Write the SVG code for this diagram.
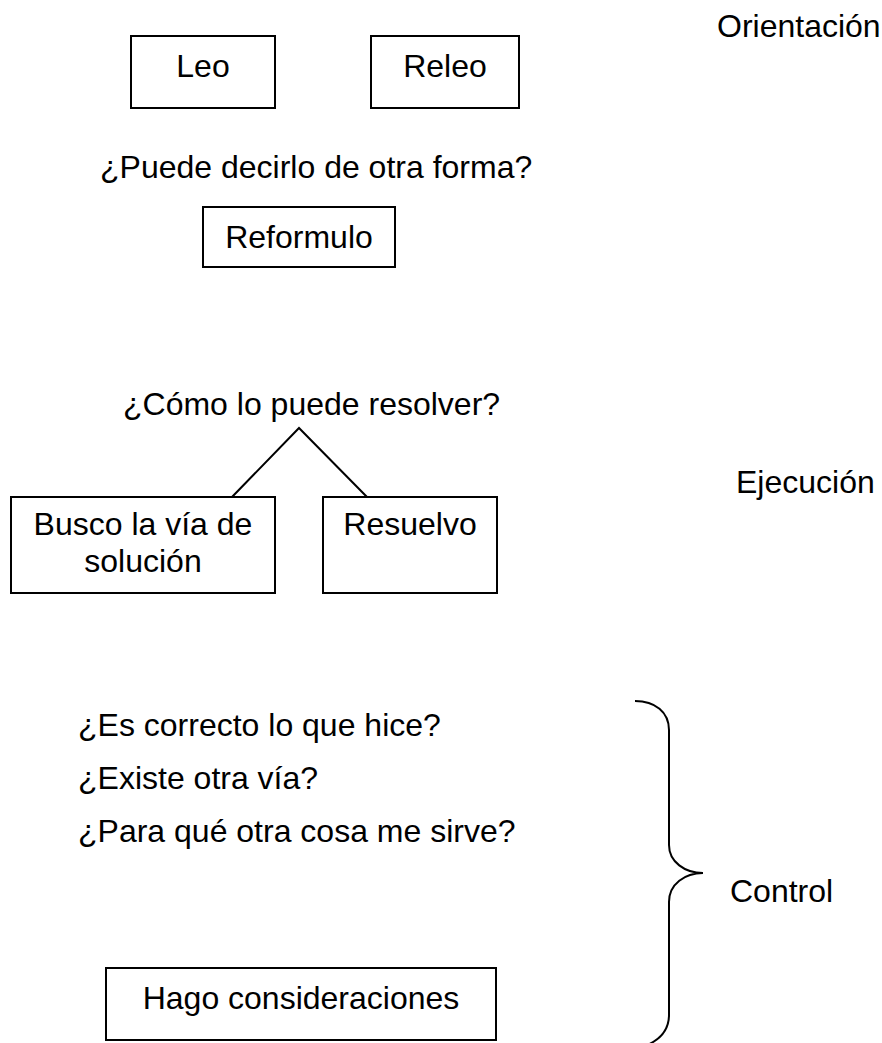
<svg xmlns="http://www.w3.org/2000/svg" width="882" height="1043" viewBox="0 0 882 1043">
<style>
  text { font-family: "Liberation Sans", Arial, sans-serif; font-size: 32px; fill: #000; }
  .c { text-anchor: middle; }
  .box { fill: #fff; stroke: #000; stroke-width: 2; }
  .ln { fill: none; stroke: #000; stroke-width: 2; }
</style>
<rect width="882" height="1043" fill="#fff"/>
<g id="label-orientacion"><text x="717" y="37">Orientación</text></g>
<g id="node-leo"><rect class="box" x="131" y="36" width="144" height="72"/><text class="c" x="203" y="77">Leo</text></g>
<g id="node-releo"><rect class="box" x="371" y="36" width="148" height="72"/><text class="c" x="445" y="77">Releo</text></g>
<g id="q-puede"><text x="100" y="178">¿Puede decirlo de otra forma?</text></g>
<g id="node-reformulo"><rect class="box" x="203" y="207" width="192" height="60"/><text class="c" x="299" y="248">Reformulo</text></g>
<g id="q-como"><text x="123" y="415">¿Cómo lo puede resolver?</text></g>
<g id="label-ejecucion"><text x="736" y="493">Ejecución</text></g>
<g id="node-busco"><rect class="box" x="11" y="497" width="264" height="96"/><text class="c" x="143" y="535">Busco la vía de</text><text class="c" x="143" y="572">solución</text></g>
<g id="node-resuelvo"><rect class="box" x="323" y="497" width="174" height="96"/><text class="c" x="410" y="535">Resuelvo</text></g>
<g id="connectors">
  <polyline class="ln" points="232,497 299,428 367,497"/>
  <path class="ln" d="M635,701 C655,701 669,712 669,730 L669,845 C669,862 685,873 703,873 C685,873 669,884 669,902 L669,1015 C669,1030 660,1040 645,1046"/>
</g>
<g id="q-control">
  <text x="78" y="736">¿Es correcto lo que hice?</text>
  <text x="78" y="789">¿Existe otra vía?</text>
  <text x="78" y="842">¿Para qué otra cosa me sirve?</text>
</g>
<g id="label-control"><text x="730" y="902">Control</text></g>
<g id="node-hago"><rect class="box" x="106" y="968" width="390" height="72"/><text class="c" x="301" y="1009">Hago consideraciones</text></g>
</svg>
